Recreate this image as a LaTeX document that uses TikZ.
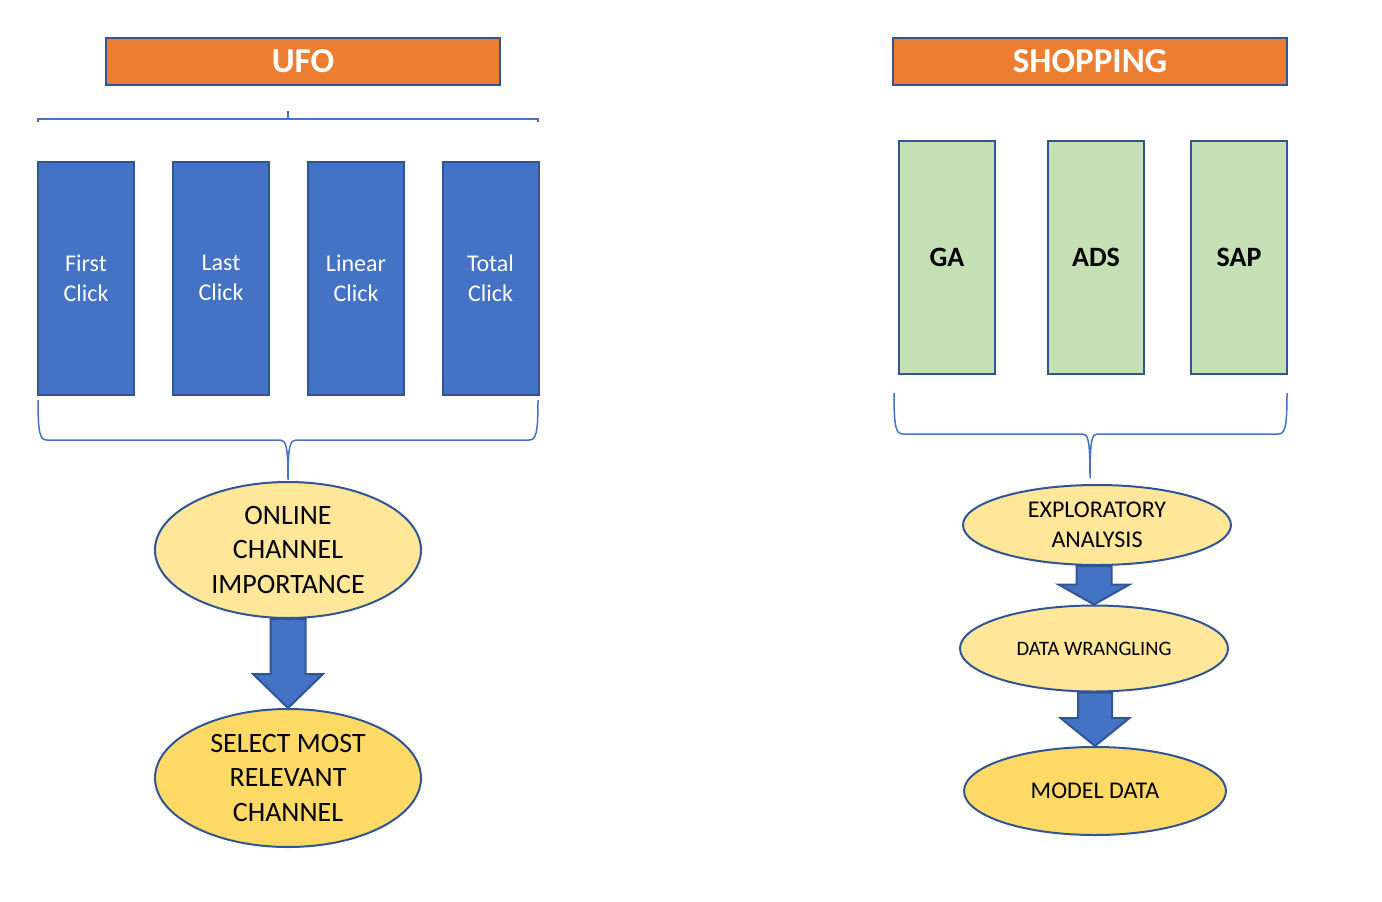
\documentclass[tikz,border=0pt]{standalone}
\usepackage{fontspec}
\setmainfont{Carlito}
\usetikzlibrary{shapes.geometric,calc}

\definecolor{hdorange}{HTML}{ED7D31}
\definecolor{boxblue}{HTML}{4472C4}
\definecolor{edgeblue}{HTML}{2F5597}
\definecolor{srcgreen}{HTML}{C5E0B4}
\definecolor{lightgold}{HTML}{FFE699}
\definecolor{gold}{HTML}{FFD966}

% block arrow: from, to, shaft half width, head half width, head length
\newcommand{\blockarrow}[5]{%
  \draw[blockarr] ($(#2 |- #1)+(-#3,0)$) -- ($(#2 |- #1)+(#3,0)$) -- ($(#2)+(#3,-#5)$)
    -- ($(#2)+(#4,-#5)$) -- (#2) -- ($(#2)+(-#4,-#5)$) -- ($(#2)+(-#3,-#5)$) -- cycle;}

\begin{document}
\begin{tikzpicture}[x=1pt,y=-1pt]

  \tikzstyle{title}=[draw=edgeblue, line width=2pt, fill=hdorange, text=white,
    font=\fontsize{35}{40}\selectfont\bfseries, minimum width=394pt, minimum height=47pt]
  \tikzstyle{model}=[draw=edgeblue, line width=2pt, fill=boxblue, text=white, align=center,
    font=\fontsize{24}{30}\selectfont, minimum width=96pt, minimum height=233pt]
  \tikzstyle{source}=[model, fill=srcgreen, text=black, font=\fontsize{28}{34}\selectfont\bfseries]
  \tikzstyle{stage}=[ellipse, draw=edgeblue, line width=2pt, fill=lightgold, align=center,
    inner sep=0pt, font=\fontsize{28}{34.5}\selectfont]
  \tikzstyle{brace}=[draw=boxblue, line width=1.5pt]
  \tikzstyle{blockarr}=[draw=edgeblue, line width=2pt, fill=boxblue, line join=miter]

  \useasboundingbox (0,0) rectangle (1382,902);

  % left side
  \node[title] (ufo) at (303,61.5) {UFO};
  \node[model] (first) at (86,278) {First\\Click};
  \node[model] (last) at (221,278) {Last\\Click};
  \node[model] (linear) at (356,278) {Linear\\Click};
  \node[model] (total) at (490.5,278) {Total\\Click};

  \draw[brace] (38,122) -- (38,119) -- (538,119) -- (538,122);
  \draw[brace] (288,119) -- (288,111);
  \draw[brace] (38,400) .. controls (38,434) and (40,440) .. (47,440) -- (280,440)
    .. controls (286,440) and (288,446) .. (288,480)
    .. controls (288,446) and (290,440) .. (296,440) -- (529,440)
    .. controls (536,440) and (538,434) .. (538,400);

  \node[stage, minimum width=266pt, minimum height=136pt] (oci) at (288,550)
    {ONLINE\\CHANNEL\\IMPORTANCE};
  \node[stage, fill=gold, minimum width=266pt, minimum height=138pt] (smr) at (288,778)
    {SELECT MOST\\RELEVANT\\CHANNEL};
  \blockarrow{oci.south}{smr.north}{17.5}{35}{34}

  % right side
  \node[title] (shop) at (1090,61.5) {SHOPPING};
  \node[source] (ga) at (947,257) {GA};
  \node[source] (ads) at (1096,257) {ADS};
  \node[source] (sap) at (1239,257) {SAP};

  \draw[brace] (894,393) .. controls (894,428) and (896,434) .. (903,434) -- (1083,434)
    .. controls (1088,434) and (1090,440) .. (1090,478)
    .. controls (1090,440) and (1092,434) .. (1097,434) -- (1278,434)
    .. controls (1285,434) and (1287,428) .. (1287,393);

  \node[stage, font=\fontsize{24}{30}\selectfont, minimum width=268pt, minimum height=80pt]
    (explore) at (1097,525) {EXPLORATORY\\ANALYSIS};
  \node[stage, font=\fontsize{20.5}{25}\selectfont, minimum width=268pt, minimum height=86pt]
    (wrangle) at (1094,648.5) {DATA WRANGLING};
  \node[stage, fill=gold, font=\fontsize{24}{30}\selectfont, minimum width=262pt, minimum height=88pt]
    (modeldata) at (1095,791) {MODEL DATA};
  \blockarrow{explore.south}{wrangle.north}{17.5}{35.5}{20}
  \blockarrow{wrangle.south}{modeldata.north}{17}{34.5}{28}

\end{tikzpicture}
\end{document}
